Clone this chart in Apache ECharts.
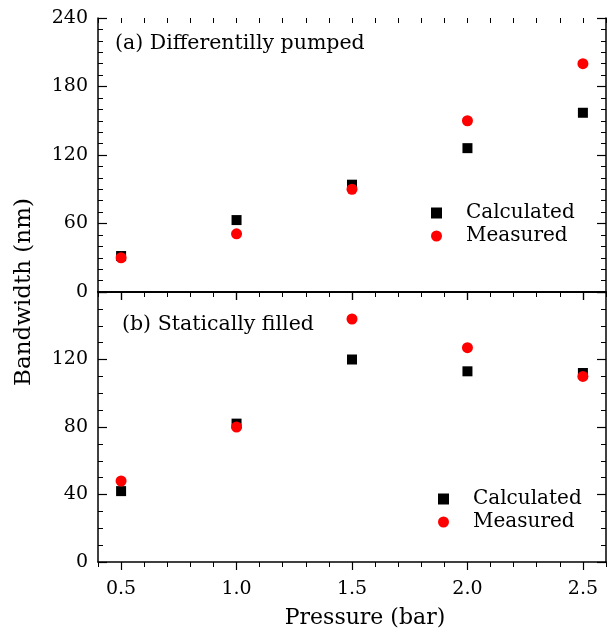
<!DOCTYPE html>
<html>
<head>
<meta charset="utf-8">
<script src="https://cdn.jsdelivr.net/npm/echarts@6/dist/echarts.min.js"></script>
<style>
  html, body { margin: 0; padding: 0; background: #fff; }
  #chart { width: 610px; height: 630px; }
</style>
</head>
<body>
<div id="chart"></div>
<script>
// pressure points (bar)
var pressure = [0.5, 1.0, 1.5, 2.0, 2.5];
// (a) differentially pumped
var pumpedCalc = [31.5, 63, 94, 126, 157];
var pumpedMeas = [30, 51, 90, 150, 200];
// (b) statically filled
var filledCalc = [42, 82, 120, 113, 112];
var filledMeas = [48, 80, 144, 127, 110];
// tick labels
var xMajor = [0.5, 1.0, 1.5, 2.0, 2.5];

var FONT = 'DejaVu Serif';

function pairs(ys) {
    return pressure.map(function (x, i) { return [x, ys[i]]; });
}

var lineStyle = { color: '#000', width: 1.5 };

// builds one x axis for a grid; kind = main | major | minor
function xAx(grid, pos, kind, inside) {
    var ax = {
        type: 'value', gridIndex: grid, position: pos,
        min: 0.4, max: 2.6,
        splitLine: { show: false },
        axisLine: { show: kind !== 'minor', lineStyle: lineStyle },
        axisLabel: { show: false },
        axisTick: { show: false }
    };
    if (kind === 'major') {
        ax.axisTick = { show: true, inside: inside, length: 8, customValues: xMajor, lineStyle: { color: '#000', width: 1.2 } };
    } else if (kind === 'minor') {
        ax.interval = 0.1;
        ax.axisTick = { show: true, inside: inside, length: 5, lineStyle: { color: '#000', width: 1 } };
    }
    return ax;
}

var xAxes = [
    xAx(0, 'bottom', 'main'),            // 0 series axis top panel
    xAx(0, 'top', 'major', true),        // 1
    xAx(0, 'top', 'minor', true),        // 2
    xAx(1, 'bottom', 'major', false),    // 3 series axis bottom panel
    xAx(1, 'bottom', 'minor', false),    // 4
    xAx(1, 'top', 'major', true),        // 5
    xAx(1, 'top', 'minor', true)         // 6
];
xAxes[3].axisLabel = {
    show: true, customValues: xMajor, margin: 18,
    color: '#000', fontFamily: FONT, fontSize: 19,
    formatter: function (v) { return v.toFixed(1); }
};
xAxes[3].name = 'Pressure (bar)';
xAxes[3].nameLocation = 'middle';
xAxes[3].nameGap = 45;
xAxes[3].nameTextStyle = { color: '#000', fontFamily: FONT, fontSize: 22, padding: [0, 0, 0, 26] };

function yAx(grid, pos, max, interval, minors, labels) {
    return {
        type: 'value', gridIndex: grid, position: pos,
        min: 0, max: max, interval: interval,
        splitLine: { show: false },
        axisLine: { show: true, lineStyle: lineStyle },
        axisTick: { show: true, inside: true, length: 9, lineStyle: { color: '#000', width: 1.2 } },
        minorTick: { show: true, splitNumber: minors, length: 5, lineStyle: { color: '#000', width: 1 } },
        axisLabel: {
            show: labels, margin: 10, color: '#000', fontFamily: FONT, fontSize: 19,
            formatter: function (v) { return v === 160 ? '' : String(v); }
        }
    };
}

var legendText = { fontFamily: FONT, fontSize: 20, lineHeight: 20, color: '#000', padding: [0, 0, 0, 19] };

var option = {
    animation: false,
    backgroundColor: '#fff',
    title: [
        { text: '(a) Differentilly pumped', left: 115, top: 33, padding: 0,
          textStyle: { fontFamily: FONT, fontSize: 20.5, fontWeight: 'normal', color: '#000' } },
        { text: '(b) Statically filled', left: 122, top: 314, padding: 0,
          textStyle: { fontFamily: FONT, fontSize: 20.5, fontWeight: 'normal', color: '#000' } }
    ],
    grid: [
        { left: 98, top: 18, width: 508, height: 274 },
        { left: 98, top: 292, width: 508, height: 274 }
    ],
    legend: [
        { orient: 'vertical', left: 431, top: 203, padding: 0, itemGap: 3,
          itemWidth: 11, itemHeight: 11,
          data: [{ name: 'Calculated', icon: 'rect' }, { name: 'Measured', icon: 'circle' }],
          textStyle: legendText },
        { orient: 'vertical', left: 438, top: 489, padding: 0, itemGap: 3,
          itemWidth: 11, itemHeight: 11,
          data: [{ name: 'Calculated', icon: 'rect' }, { name: 'Measured', icon: 'circle' }],
          textStyle: legendText }
    ],
    xAxis: xAxes,
    yAxis: [
        yAx(0, 'left', 240, 60, 6, true),
        yAx(0, 'right', 240, 60, 6, false),
        yAx(1, 'left', 160, 40, 4, true),
        yAx(1, 'right', 160, 40, 4, false)
    ],
    graphic: [{
        type: 'text', x: 24, y: 292, rotation: Math.PI / 2,
        style: { text: 'Bandwidth (nm)', fontFamily: FONT, fontSize: 23, fill: '#000',
                 textAlign: 'center', textVerticalAlign: 'middle' }
    }],
    series: [
        { name: 'Calculated', type: 'scatter', xAxisIndex: 0, yAxisIndex: 0,
          symbol: 'rect', symbolSize: 10, itemStyle: { color: '#000', opacity: 1 }, data: pairs(pumpedCalc) },
        { name: 'Measured', type: 'scatter', xAxisIndex: 0, yAxisIndex: 0,
          symbol: 'circle', symbolSize: 11, itemStyle: { color: '#ff0000', opacity: 1 }, data: pairs(pumpedMeas) },
        { name: 'Calculated', type: 'scatter', xAxisIndex: 3, yAxisIndex: 2,
          symbol: 'rect', symbolSize: 10, itemStyle: { color: '#000', opacity: 1 }, data: pairs(filledCalc) },
        { name: 'Measured', type: 'scatter', xAxisIndex: 3, yAxisIndex: 2,
          symbol: 'circle', symbolSize: 11, itemStyle: { color: '#ff0000', opacity: 1 }, data: pairs(filledMeas) }
    ]
};

var chart = echarts.init(document.getElementById('chart'));
chart.setOption(option);
</script>
</body>
</html>
